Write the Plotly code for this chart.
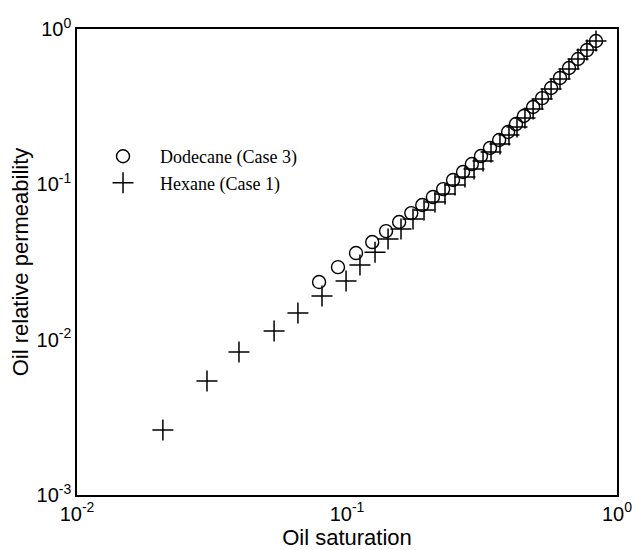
import plotly.graph_objects as go

# Dodecane (Case 3)
dod_so = [0.0788, 0.0926, 0.108, 0.124, 0.1395, 0.156, 0.173, 0.190, 0.208, 0.227,
          0.247, 0.269, 0.290, 0.3135, 0.3385, 0.366, 0.395, 0.4225, 0.452, 0.489,
          0.528, 0.570, 0.615, 0.664, 0.717, 0.774, 0.836]
dod_kr = [0.0235, 0.0293, 0.0361, 0.0425, 0.0500, 0.0572, 0.0653, 0.0736, 0.0828, 0.0932,
          0.1066, 0.1200, 0.1351, 0.1521, 0.1713, 0.1929, 0.2172, 0.2444, 0.2754, 0.3146,
          0.359, 0.417, 0.484, 0.561, 0.641, 0.732, 0.837]

# Hexane (Case 1)
hex_so = [0.0208, 0.0303, 0.0398, 0.0537, 0.0658, 0.0808, 0.0992, 0.1117, 0.127, 0.1419,
          0.1585, 0.1756, 0.1929, 0.2118, 0.2307, 0.2512, 0.2735, 0.2954, 0.319, 0.3415,
          0.3686, 0.398, 0.4262, 0.4562, 0.489, 0.528, 0.570, 0.615, 0.664, 0.717,
          0.774, 0.836]
hex_kr = [0.00262, 0.00541, 0.00832, 0.01136, 0.01484, 0.01909, 0.02384, 0.0302, 0.0366, 0.0444,
          0.0516, 0.0598, 0.0683, 0.0769, 0.0866, 0.0990, 0.1114, 0.1254, 0.1413, 0.1614,
          0.1817, 0.2077, 0.2339, 0.2673, 0.3054, 0.3541, 0.4108, 0.4765, 0.5527, 0.641,
          0.732, 0.837]

# Tick labels
x_tickvals = [0.01, 0.1, 1]
x_ticktext = ["10<sup>-2</sup>", "10<sup>-1</sup>", "10<sup>0</sup>"]
y_tickvals = [0.001, 0.01, 0.1, 1]
y_ticktext = ["10<sup>-3</sup>", "10<sup>-2</sup>", "10<sup>-1</sup>", "10<sup>0</sup>"]

fig = go.Figure()
fig.add_trace(go.Scatter(
    x=dod_so, y=dod_kr, mode="markers", name="Dodecane (Case 3)",
    marker=dict(symbol="circle-open", size=13, color="black", line=dict(width=1.4, color="black")),
))
fig.add_trace(go.Scatter(
    x=hex_so, y=hex_kr, mode="markers", name="Hexane (Case 1)",
    marker=dict(symbol="cross-thin-open", size=15, color="black", line=dict(width=1.5, color="black")),
))

sans = "Liberation Sans, Arial"
axis_common = dict(
    type="log", showgrid=False, zeroline=False,
    showline=True, mirror=True, linecolor="black", linewidth=1.5, ticks="",
    tickfont=dict(family=sans, size=20, color="black"),
)
fig.update_layout(
    width=634, height=550,
    margin=dict(l=77, r=17, t=29, b=55),
    paper_bgcolor="white", plot_bgcolor="white",
    xaxis=dict(range=[-2, 0], tickvals=x_tickvals, ticktext=x_ticktext,
               title=dict(text="Oil saturation", standoff=8,
                          font=dict(family=sans, size=22, color="black")),
               automargin=False, **axis_common),
    yaxis=dict(range=[-3, 0], tickvals=y_tickvals, ticktext=y_ticktext,
               title=dict(text="Oil relative permeability", standoff=2,
                          font=dict(family=sans, size=22, color="black")),
               automargin=False, **axis_common),
    legend=dict(x=0.0167, y=0.766, xanchor="left", yanchor="top", bgcolor="rgba(0,0,0,0)",
                font=dict(family="Liberation Serif, Times New Roman", size=18, color="black"),
                itemwidth=64),
    showlegend=True,
)
fig.write_html("out.html")
